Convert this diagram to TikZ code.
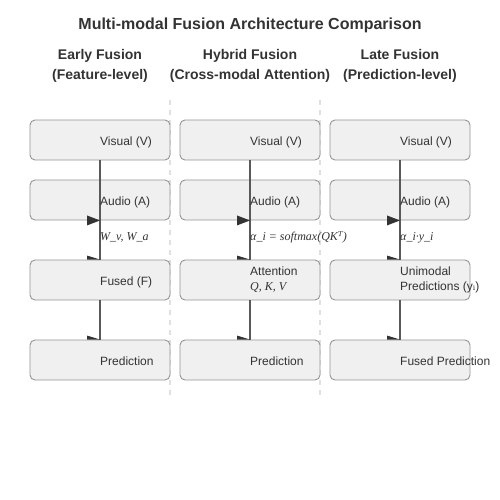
\documentclass[tikz,border=0pt]{standalone}
\usepackage{fontspec}
\setmainfont{Liberation Sans}
\newfontfamily\serifit{Liberation Serif}[ItalicFont={Liberation Serif Italic}]
\newfontfamily\dvserif{DejaVu Serif}
\begin{document}
\begin{tikzpicture}[x=1pt,y=-1pt,
  box/.style={draw=black!42,fill=black!6,line width=0.9pt,rounded corners=5pt,minimum width=140pt,minimum height=40pt,inner sep=0pt},
  txt/.style={anchor=base west,inner sep=0pt,font=\fontsize{12}{14}\selectfont,text=black!80},
  lbl/.style={anchor=base west,inner sep=0pt,font=\fontsize{12}{14}\selectfont\serifit\itshape,text=black!80},
  head/.style={anchor=base,inner sep=0pt,font=\fontsize{14}{16}\selectfont\bfseries,text=black!80},
  conn/.style={draw=black!65,line width=1.8pt},
  tip/.style={fill=black!80},
  sep/.style={draw=black!12,line width=1.5pt,dash pattern=on 5pt off 5pt}]
\useasboundingbox (0,0) rectangle (500,500);
\node[anchor=base,inner sep=0pt,font=\fontsize{16}{18}\selectfont\bfseries,text=black!80] (title) at (250,30) {Multi-modal Fusion Architecture Comparison};
\foreach \x/\a/\b/\n in {100/Early Fusion/(Feature-level)/e,250/Hybrid Fusion/(Cross-modal Attention)/h,400/Late Fusion/(Prediction-level)/l}{
  \node[head] (h1\n) at (\x,60) {\a};
  \node[head] (h2\n) at (\x,80) {\b};
}
\coordinate (s1a) at (170,100); \coordinate (s1b) at (170,400);
\coordinate (s2a) at (320,100); \coordinate (s2b) at (320,400);
\draw[sep] (s1a) -- (s1b);
\draw[sep] (s2a) -- (s2b);
\foreach \x/\n in {100/e,250/h,400/l}{
  \node[box] (\n v) at (\x,140) {};
  \node[box] (\n a) at (\x,200) {};
  \node[box] (\n f) at (\x,280) {};
  \node[box] (\n p) at (\x,360) {};
  \draw[conn] (\n v.south) -- (\n f.north);
  \draw[conn] (\n f.south) -- (\n p.north);
  \fill[tip] (\n a.south) -- ++(-13,-5) -- ++(0,10) -- cycle;
  \fill[tip] (\n f.north) -- ++(-13,0) -- ++(0,-4) -- cycle;
  \fill[tip] (\n p.north) -- ++(-13,0) -- ++(0,-4) -- cycle;
  \node[txt] (\n vt) at (\x,145) {Visual (V)};
  \node[txt] (\n at) at (\x,205) {Audio (A)};
}
\node[txt] (eft) at (100,285) {Fused (F)};
\node[txt] (hft) at (250,275) {Attention};
\node[lbl] (hfq) at (250,290) {Q, K, V};
\node[txt] (lft) at (400,275) {Unimodal};
\node[txt] (lfq) at (400,290) {Predictions (y{\dvserif ᵢ})};
\node[lbl] (el) at (100,240) {W\_v, W\_a};
\node[lbl] (hl) at (250,240) {α\_i = softmax(QK{\dvserif ᵀ})};
\node[lbl] (ll) at (400,240) {α\_i·y\_i};
\node[txt] (ept) at (100,365) {Prediction};
\node[txt] (hpt) at (250,365) {Prediction};
\node[txt] (lpt) at (400,365) {Fused Prediction};
\end{tikzpicture}
\end{document}
